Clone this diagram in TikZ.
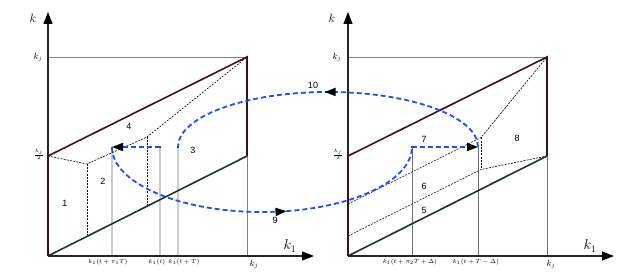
\documentclass[tikz,border=0pt]{standalone}
\usepackage{fontspec}
\newfontfamily\numfont{Liberation Sans}
\usetikzlibrary{arrows.meta,decorations.markings}
\definecolor{edgered}{RGB}{58,18,22}
\definecolor{edgegreen}{RGB}{28,51,40}
\definecolor{flowblue}{RGB}{30,80,240}
\definecolor{refgray}{RGB}{140,125,125}

\begin{document}
\begin{tikzpicture}[x=1pt,y=-1pt,
  axis/.style={black!85,line width=1.2pt,-{Triangle[length=12pt,width=9pt,color=black]}},
  upper/.style={line width=1.6pt,edgered},
  lower/.style={line width=1.6pt,edgegreen},
  seg/.style={black,line width=0.6pt,dash pattern=on 2pt off 1.2pt},
  guide/.style={gray!40,line width=1.1pt},
  fineguide/.style={black!55,line width=0.4pt},
  flow/.style={flowblue,line width=1.8pt,dash pattern=on 5pt off 3pt},
  tip/.style={-{Triangle[length=11pt,width=8pt,color=black]}},
  midtip/.style={postaction={decorate},decoration={markings,
    mark=at position #1 with {\arrow{Triangle[length=11pt,width=8pt,color=black]}}}},
  region/.style={font=\numfont\fontsize{9}{10}\selectfont},
  tick/.style={font=\fontsize{6.5}{7}\selectfont,anchor=north,inner sep=1pt},
  dot/.style={circle,fill=black,inner sep=0pt,minimum size=2.4pt}
]
\useasboundingbox (0,0) rectangle (640,280);

% left panel
\coordinate (O1) at (48,256);
\coordinate (X1) at (314,256);
\coordinate (Y1) at (48,12);
\coordinate (KH1) at (48,156);
\coordinate (KJ1) at (247,57);
\coordinate (BR1) at (247,156);
\coordinate (A1) at (87,164);
\coordinate (A1b) at (87,236.5);
\coordinate (A2) at (147,137);
\coordinate (A2b) at (147,206.5);
\coordinate (P1) at (112,147);
\coordinate (P2) at (160,147);
\coordinate (P3) at (178,147);

\draw[refgray,line width=0.4pt] (KJ1 -| O1) -- (KJ1);
\foreach \p in {P1,P2,P3} \draw[guide] (\p) -- (\p |- O1);
\draw[fineguide,gray] (BR1) -- (BR1 |- O1);
\draw[axis] (O1) -- (X1);
\draw[axis] (O1) -- (Y1);
\draw[seg] (KH1) -- (A1) -- (A2) -- (KJ1);
\draw[seg] (A1) -- (A1b);
\draw[seg] (A2) -- (A2b);
\draw[lower] (O1) -- (BR1);
\draw[upper] (O1) -- (KH1) -- (KJ1) -- (BR1);
\node[dot] (d2) at (P2) {};
\node[dot] (d3) at (P3) {};

\node[font=\large] (ak1) at (33,18) {$k$};
\node[font=\Large] (ax1) at (290,246) {$k_1$};
\node[font=\small] (kjy1) at (38,57) {$k_j$};
\node[font=\tiny,inner sep=0pt] (khy1) at (39,154) {$\frac{k_j}{2}$};
\node[font=\small] (kjx1) at (254,264) {$k_j$};
\node[tick] (t11) at (108,258) {$k_1(t+\pi_1 T)$};
\node[tick] (t12) at (157,258) {$k_1(t)$};
\node[tick] (t13) at (184,258) {$k_1(t+T)$};

\node[region] (r1) at (65,203) {1};
\node[region] (r2) at (103,181) {2};
\node[region] (r3) at (193,150) {3};
\node[region] (r4) at (129,126) {4};

% right panel
\coordinate (O2) at (348,256);
\coordinate (X2) at (614,256);
\coordinate (Y2) at (348,12);
\coordinate (KH2) at (348,156);
\coordinate (KJ2) at (547,57);
\coordinate (BR2) at (547,156);
\coordinate (L0) at (348,236);
\coordinate (L1) at (481,169.5);
\coordinate (U0) at (348,204);
\coordinate (U1) at (481,137.5);
\coordinate (Q1) at (412,147);
\coordinate (Q2) at (478,147);

\draw[refgray,line width=0.4pt] (KJ2 -| O2) -- (KJ2);
\foreach \p in {Q1,Q2,BR2} \draw[fineguide] (\p) -- (\p |- O2);
\draw[axis] (O2) -- (X2);
\draw[axis] (O2) -- (Y2);
\draw[seg] (L0) -- (L1) -- (BR2);
\draw[seg] (U0) -- (U1) -- (KJ2);
\draw[seg] (U1) -- (L1);
\draw[lower] (O2) -- (BR2);
\draw[upper] (O2) -- (KH2) -- (KJ2) -- (BR2);
\node[dot] (d4) at (Q1) {};

\node[font=\large] (ak2) at (332,18) {$k$};
\node[font=\Large] (ax2) at (590,246) {$k_1$};
\node[font=\small] (kjy2) at (337,57) {$k_j$};
\node[font=\tiny,inner sep=0pt] (khy2) at (338,154) {$\frac{k_j}{2}$};
\node[font=\small] (kjx2) at (551,264) {$k_j$};
\node[tick] (t21) at (410,258) {$k_1(t+\pi_2 T+\Delta)$};
\node[tick] (t22) at (476,258) {$k_1(t+T-\Delta)$};

\node[region] (r5) at (424,210) {5};
\node[region] (r6) at (424,186) {6};
\node[region] (r7) at (424,139) {7};
\node[region] (r8) at (517,138) {8};

% flows between panels
\draw[flow,tip] (P2) -- (P1);
\draw[flow,tip] (Q1) -- (Q2);
\draw[flow,midtip=0.57] (P1) arc[start angle=180,end angle=0,x radius=150,y radius=65];
\draw[flow,midtip=0.51] (Q2) arc[start angle=0,end angle=-180,x radius=150,y radius=55];
\node[region] (r9) at (275,220) {9};
\node[region] (r10) at (313,85) {10};
\end{tikzpicture}
\end{document}
